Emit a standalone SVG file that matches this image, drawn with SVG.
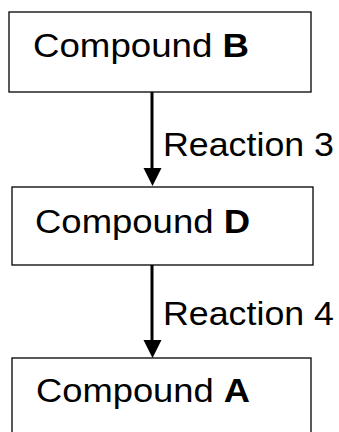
<svg xmlns="http://www.w3.org/2000/svg" width="339" height="432" viewBox="0 0 339 432">
<defs>
<style>
.box{fill:#fff;stroke:#000;stroke-width:1.3}
.t{font-family:"Liberation Sans",Arial,sans-serif;font-size:34px;fill:#000}
.b{font-weight:bold}
.c{stroke:#000;stroke-width:3;fill:none}
.h{fill:#000}
</style>
</defs>
<rect width="339" height="432" fill="#fff"/>
<g id="connectors">
<path class="c" d="M152,92 V168"/>
<path class="h" d="M143.5,168 H161.5 L152.5,186 Z"/>
<path class="c" d="M152,265 V340"/>
<path class="h" d="M143.5,340 H161.5 L152.5,358 Z"/>
<text class="t" x="163" y="156" textLength="171" lengthAdjust="spacingAndGlyphs">Reaction 3</text>
<text class="t" x="163" y="325" textLength="171" lengthAdjust="spacingAndGlyphs">Reaction 4</text>
</g>
<g id="nodeB">
<rect class="box" x="9" y="12" width="302" height="80"/>
<text class="t" x="33" y="57" textLength="216" lengthAdjust="spacingAndGlyphs">Compound <tspan class="b">B</tspan></text>
</g>
<g id="nodeD">
<rect class="box" x="12" y="187" width="301" height="78"/>
<text class="t" x="35" y="233" textLength="215" lengthAdjust="spacingAndGlyphs">Compound <tspan class="b">D</tspan></text>
</g>
<g id="nodeA">
<rect class="box" x="12" y="358" width="299" height="80"/>
<text class="t" x="36" y="402" textLength="214" lengthAdjust="spacingAndGlyphs">Compound <tspan class="b">A</tspan></text>
</g>
</svg>
